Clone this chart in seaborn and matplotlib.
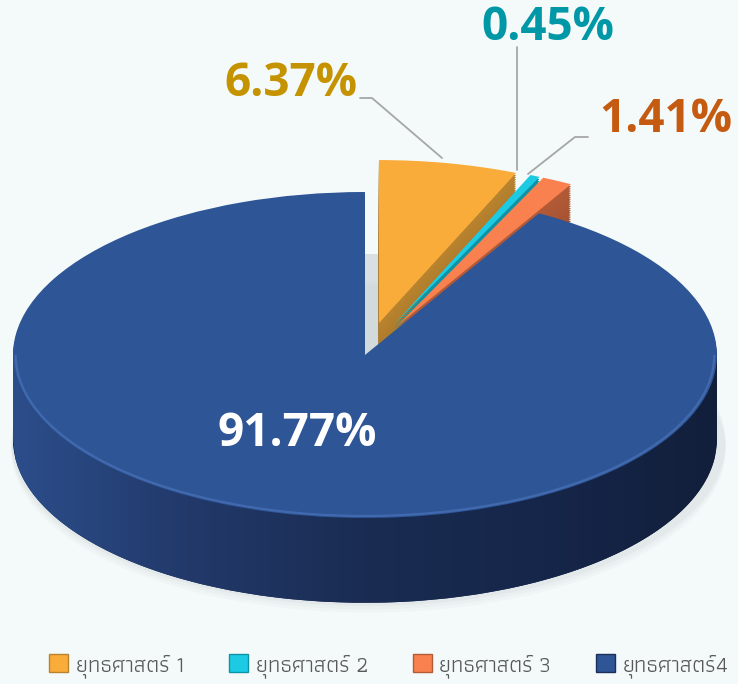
import numpy as np
import matplotlib
matplotlib.use("Agg")
import matplotlib.pyplot as plt
import matplotlib.colors as mcolors
from matplotlib import font_manager
from matplotlib.ft2font import FT2Font
from matplotlib.lines import Line2D
from matplotlib.patches import Patch, Polygon, Arc, Ellipse
import seaborn as sns

# ---- data ----
labels = ["ยุทธศาสตร์ 1", "ยุทธศาสตร์ 2", "ยุทธศาสตร์ 3", "ยุทธศาสตร์4"]
values = [6.37, 0.45, 1.41, 91.77]
pct_text = ["6.37%", "0.45%", "1.41%", "91.77%"]

top_colors = ["#FAAC3B", "#1CCBE3", "#F9814F", "#2E5596"]
side_colors = ["#B9832E", "#0E93A6", "#B35A37", "#1B2F58"]
label_colors = ["#C59300", "#0097A7", "#C55A11", "#FFFFFF"]
explode = [0.2, 0.2, 0.2, 0.0]
BG = "#F4FAFA"


def thai_font(preferred=("Athiti", "Anuphan", "Noto Sans Thai")):
    # pick a family that has Thai glyphs, preferring narrow loopless ones
    have = {}
    for f in font_manager.fontManager.ttflist:
        try:
            if FT2Font(f.fname).get_char_index(0x0E22):
                have[f.name] = True
        except Exception:
            pass
    for name in preferred:
        if name in have:
            return name
    return sorted(have)[0] if have else None


sns.set_theme(style="white")
tf = thai_font()
thai_family = ([tf] if tf else []) + ["DejaVu Sans"]

fig = plt.figure(figsize=(7.38, 6.84), dpi=100)
fig.patch.set_facecolor(BG)
ax = fig.add_axes([0, 0, 1, 1])
ax.set_facecolor(BG)

# soft shadow under the pie
depth = 0.52
for k, a in zip([0.06, 0.04, 0.02], [0.05, 0.06, 0.08]):
    ax.add_patch(Ellipse((0.01, -depth - k), 2.03, 2.0, facecolor="#9AA3A6",
                         alpha=a, lw=0, zorder=0))

# stacked pies give the 3D side
n_layers = 40
for i, off in enumerate(np.linspace(-depth, 0, n_layers)):
    if i == n_layers - 1:
        cols, z = top_colors, 3
    else:
        t = i / (n_layers - 2)
        cols, z = [], 1
        for c in side_colors:
            base = np.array(mcolors.to_rgb(c))
            dark = base * 0.8
            cols.append(tuple(dark + (base - dark) * t))
    ax.pie(values, colors=cols, explode=explode, startangle=90,
           counterclock=False, center=(0, off),
           wedgeprops=dict(linewidth=0, antialiased=True, zorder=z))

# shadow in the gap left by the pulled-out slices
ax.add_patch(Polygon([(0.0, 0.0), (0.0, 0.62), (0.05, 0.62), (0.05, 0.05)],
                     closed=True, facecolor="#C9D0D2", alpha=0.6, lw=0,
                     zorder=0.5))

# shading of the front rim: lighter on the left, darker to the right
xs = np.linspace(-1, 1, 300)
band = np.concatenate([
    np.column_stack([xs, -np.sqrt(1 - xs ** 2)]),
    np.column_stack([xs[::-1], -np.sqrt(1 - xs[::-1] ** 2) - depth]),
])
clip = Polygon(band, closed=True, facecolor="none", edgecolor="none")
ax.add_patch(clip)
rim_cmap = mcolors.LinearSegmentedColormap.from_list(
    "rim", ["#2C4E8B", "#22396A", "#1A2C52", "#16264A", "#121F3B"])
img = ax.imshow(np.linspace(0, 1, 256)[None, :], cmap=rim_cmap, aspect="auto",
                extent=(-1.01, 1.01, -1 - depth - 0.02, 0.02), zorder=2)
img.set_clip_path(clip)

# bevel highlight on the top edge
ax.add_patch(Arc((0, 0), 1.985, 1.975, theta1=180, theta2=360,
                 color="#4A72B8", lw=1.6, alpha=0.7, zorder=4))

ax.set_aspect("auto")
ax.set_xlim(-1.037, 1.060)
ax.set_ylim(-(684 - 355) / 163, 355 / 163)
ax.axis("off")


def fx(px):
    return px / 738


def fy(py):
    return 1 - py / 684


# value labels
label_pos = [(291, 83), (548, 27), (666, 120), (297, 433)]
for txt, col, (px, py) in zip(pct_text, label_colors, label_pos):
    fig.text(fx(px), fy(py), txt, color=col, fontsize=33, fontweight="bold",
             family=["Open Sans", "DejaVu Sans"], ha="center", va="center")

# leader lines
leaders = [
    [(360, 98), (372, 98), (442, 158)],
    [(517, 47), (517, 170)],
    [(588, 137), (575, 137), (528, 174)],
]
for pts in leaders:
    fig.add_artist(Line2D([fx(p[0]) for p in pts], [fy(p[1]) for p in pts],
                          color="#A6A6A6", lw=1.3, transform=fig.transFigure))

handles = [Patch(facecolor=c, edgecolor=s, linewidth=1)
           for c, s in zip(top_colors, side_colors)]
leg = fig.legend(handles, labels, loc="lower center", ncol=4, frameon=False,
                 bbox_to_anchor=(0.527, -0.02),
                 handlelength=0.85, handleheight=0.85, handletextpad=0.35,
                 columnspacing=2.0, prop={"family": thai_family, "size": 16})
for t in leg.get_texts():
    t.set_color("#595959")

fig.savefig("out.png", dpi=100, facecolor=BG)
